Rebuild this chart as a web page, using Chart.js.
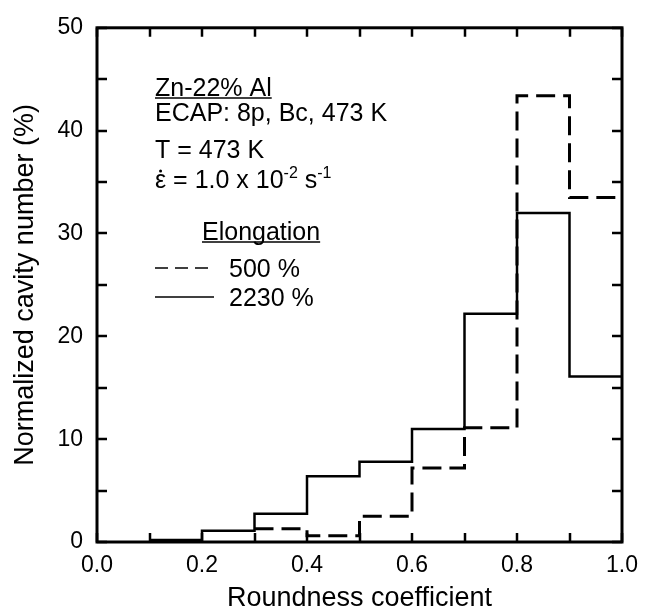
<!DOCTYPE html>
<html>
<head>
<meta charset="utf-8">
<script src="https://cdn.jsdelivr.net/npm/chart.js@4/dist/chart.umd.min.js"></script>
<style>
  html, body { margin: 0; padding: 0; background: #fff; }
  #wrap { width: 648px; height: 610px; }
</style>
</head>
<body>
<div id="wrap"><canvas id="chart" width="648" height="610"></canvas></div>
<script>
// histogram bins (left edges), last bin ends at 1.0
const binStarts = [0.1, 0.2, 0.3, 0.4, 0.5, 0.6, 0.7, 0.8, 0.9];
const binEnd = 1.0;
const elong2230 = [0.2, 1.1, 2.75, 6.4, 7.8, 11.0, 22.2, 32.0, 16.1];
const elong500 = [null, null, 1.3, 0.6, 2.5, 7.2, 11.1, 43.4, 33.5];
const xTicks = [0, 0.2, 0.4, 0.6, 0.8, 1.0];
const yTicks = [0, 10, 20, 30, 40, 50];

const FONT = '"Liberation Sans", Arial, Helvetica, sans-serif';

// each bin value holds until the next edge: point at left edge + closing point at 1.0
function steps(vals){
  const pts = binStarts.map((x, i) => ({x: x, y: vals[i]}));
  pts.push({x: binEnd, y: vals[vals.length - 1]});
  return pts;
}

// frame, inward ticks (major + minor) on all four sides, and the text block
const framePlugin = {
  id: 'frame',
  afterDraw(chart){
    const {ctx, chartArea: a, scales: {x, y}} = chart;
    ctx.save();
    ctx.strokeStyle = '#000';
    ctx.lineWidth = 3;
    ctx.strokeRect(a.left, a.top, a.right - a.left, a.bottom - a.top);

    ctx.lineWidth = 2.5;
    ctx.beginPath();
    for(let v = 0; v <= 1.0001; v += 0.1){
      const px = Math.round(x.getPixelForValue(v));
      ctx.moveTo(px, a.bottom); ctx.lineTo(px, a.bottom - 9);
      ctx.moveTo(px, a.top); ctx.lineTo(px, a.top + 9);
    }
    for(let v = 0; v <= 50; v += 5){
      const py = Math.round(y.getPixelForValue(v));
      ctx.moveTo(a.left, py); ctx.lineTo(a.left + 10, py);
      ctx.moveTo(a.right, py); ctx.lineTo(a.right - 10, py);
    }
    ctx.stroke();

    // annotation text
    ctx.fillStyle = '#000';
    ctx.textBaseline = 'alphabetic';
    ctx.textAlign = 'left';
    ctx.font = '25px ' + FONT;
    const underline = (txt, tx, ty) => {
      ctx.fillText(txt, tx, ty);
      const w = ctx.measureText(txt).width;
      ctx.lineWidth = 1.5;
      ctx.beginPath(); ctx.moveTo(tx, ty + 2); ctx.lineTo(tx + w, ty + 2); ctx.stroke();
    };
    underline('Zn-22% Al', 155, 96);
    ctx.fillText('ECAP: 8p, Bc, 473 K', 155, 121);
    ctx.fillText('T = 473 K', 155, 158);

    // strain rate line with superscripts, dot over epsilon drawn by hand
    let cx = 155;
    const part = (txt, size, dy) => {
      ctx.font = size + 'px ' + FONT;
      ctx.fillText(txt, cx, 188 + dy);
      cx += ctx.measureText(txt).width;
    };
    ctx.font = '25px ' + FONT;
    const epsW = ctx.measureText('\u03B5').width;
    ctx.beginPath(); ctx.arc(155 + epsW / 2, 188 - 17, 1.5, 0, Math.PI * 2); ctx.fill();
    part('\u03B5 = 1.0 x 10', 25, 0);
    part('-2', 16, -10);
    part(' s', 25, 0);
    part('-1', 16, -10);

    ctx.font = '25px ' + FONT;
    underline('Elongation', 202, 240);

    ctx.lineWidth = 1.6;
    ctx.setLineDash([13, 7]);
    ctx.beginPath(); ctx.moveTo(155, 268); ctx.lineTo(208, 268); ctx.stroke();
    ctx.setLineDash([]);
    ctx.beginPath(); ctx.moveTo(155, 297); ctx.lineTo(214, 297); ctx.stroke();
    ctx.fillText('500 %', 229, 277);
    ctx.fillText('2230 %', 229, 306);
    ctx.restore();
  }
};

new Chart(document.getElementById('chart'), {
  type: 'line',
  data: {
    datasets: [
      {
        label: '500 %',
        data: steps(elong500),
        stepped: 'before',
        borderColor: '#000',
        borderWidth: 3,
        borderDash: [19, 8],
        pointRadius: 0,
        fill: false
      },
      {
        label: '2230 %',
        data: steps(elong2230),
        stepped: 'before',
        borderColor: '#000',
        borderWidth: 2.5,
        pointRadius: 0,
        fill: false
      }
    ]
  },
  options: {
    responsive: false,
    animation: false,
    events: [],
    layout: { padding: { top: 21, right: 26, left: 0, bottom: 0 } },
    plugins: { legend: { display: false }, tooltip: { enabled: false } },
    scales: {
      x: {
        type: 'linear',
        min: 0, max: 1,
        afterBuildTicks: s => { s.ticks = xTicks.map(v => ({value: v})); },
        afterFit: s => { s.height = 68; },
        grid: { display: false, drawTicks: false },
        border: { display: false },
        ticks: {
          color: '#000', padding: 10,
          font: { family: FONT, size: 23 },
          callback: v => v.toFixed(1)
        },
        title: {
          display: true, text: 'Roundness coefficient', color: '#000',
          font: { family: FONT, size: 27, lineHeight: 1 },
          padding: { top: 0, bottom: -2 }
        }
      },
      y: {
        min: 0, max: 50,
        afterBuildTicks: s => { s.ticks = yTicks.map(v => ({value: v})); },
        afterFit: s => { s.width = 97; },
        grid: { display: false, drawTicks: false },
        border: { display: false },
        ticks: {
          color: '#000', padding: 14,
          font: { family: FONT, size: 23 }
        },
        title: {
          display: true, text: 'Normalized cavity number (%)', color: '#000',
          font: { family: FONT, size: 27, lineHeight: 1 },
          padding: { top: 12, bottom: 0 }
        }
      }
    }
  },
  plugins: [framePlugin]
});
</script>
</body>
</html>
